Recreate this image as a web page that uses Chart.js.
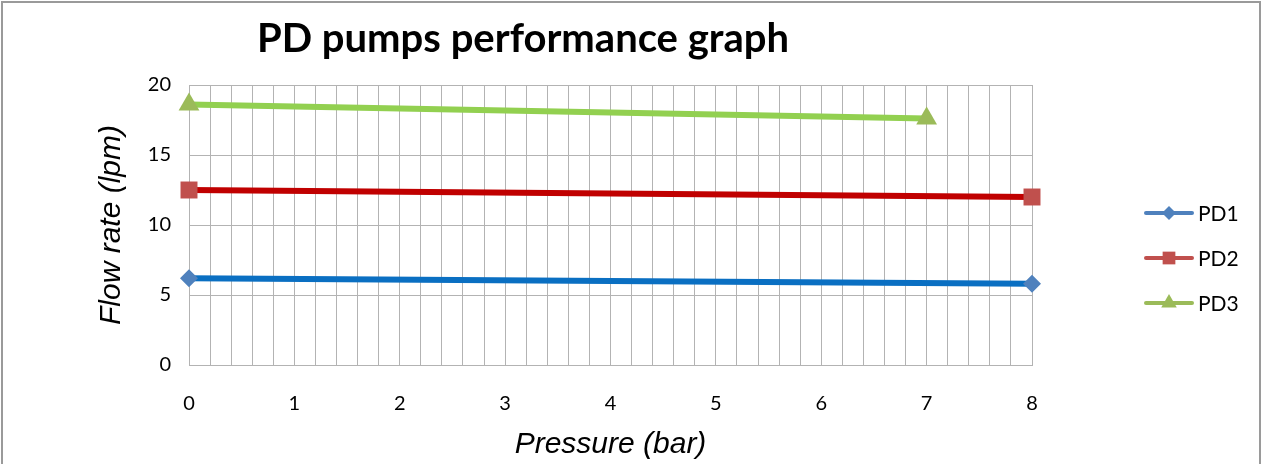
<!DOCTYPE html>
<html>
<head>
<meta charset="utf-8">
<script src="https://cdn.jsdelivr.net/npm/chart.js@4.4.1/dist/chart.umd.min.js"></script>
<style>
    html, body { margin: 0; padding: 0; background: #fff; }
    #wrap { width: 1262px; height: 464px; position: relative; }
</style>
</head>
<body>
<div id="wrap"><canvas id="chart"></canvas></div>
<script>
// valores
const seriesNames = ['PD1', 'PD2', 'PD3'];
const pd1Pressure = [0, 8];
const pd1Flow = [6.2, 5.8];
const pd2Pressure = [0, 8];
const pd2Flow = [12.5, 12.0];
const pd3Pressure = [0, 7];
const pd3Flow = [18.6, 17.6];

const chartTitle = 'PD pumps performance graph';
const xTitle = 'Pressure (bar)';
const yTitle = 'Flow rate (lpm)';

const lineColors = ['#0A6FC2', '#C00000', '#92D050'];
const markerColors = ['#4F81BD', '#C0504D', '#9BBB59'];
const markerStyles = ['rectRot', 'rect', 'triangle'];
const markerSizes = [9, 12, 12];

function toPoints(xs, ys) {
    return xs.map(function (x, i) { return { x: x, y: ys[i] }; });
}

const pressures = [pd1Pressure, pd2Pressure, pd3Pressure];
const flows = [pd1Flow, pd2Flow, pd3Flow];

const datasets = seriesNames.map(function (name, i) {
    return {
        label: name,
        data: toPoints(pressures[i], flows[i]),
        borderColor: lineColors[i],
        backgroundColor: markerColors[i],
        pointBackgroundColor: markerColors[i],
        pointBorderColor: markerColors[i],
        pointStyle: markerStyles[i],
        pointRadius: markerSizes[i],
        pointBorderWidth: 0,
        borderWidth: 6,
        clip: false
    };
});

const gridColor = '#B3B3B3';
const axisTitleFont = { family: '"Liberation Sans", Arial, sans-serif', size: 30, style: 'italic' };
const tickFont = { family: 'Lato, "Open Sans", sans-serif', size: 20 };

// moldura, título e legenda desenhados à mão
const decorPlugin = {
    id: 'decor',
    beforeDraw: function (chart) {
        const ctx = chart.ctx;
        ctx.save();
        ctx.fillStyle = '#fff';
        ctx.fillRect(0, 0, chart.width, chart.height);
        ctx.strokeStyle = '#9a9a9a';
        ctx.lineWidth = 2;
        ctx.strokeRect(2, 2, chart.width - 4, chart.height + 10);
        ctx.restore();
    },
    afterDraw: function (chart) {
        const ctx = chart.ctx;
        ctx.save();
        ctx.fillStyle = '#000';
        ctx.font = 'bold 40px Lato, "Open Sans", sans-serif';
        ctx.textAlign = 'center';
        ctx.textBaseline = 'alphabetic';
        ctx.fillText(chartTitle, 523, 52);

        // legenda
        chart.data.datasets.forEach(function (ds, i) {
            const y = 213 + i * 45;
            ctx.strokeStyle = ds.backgroundColor;
            ctx.lineWidth = 4;
            ctx.lineCap = 'round';
            ctx.beginPath();
            ctx.moveTo(1146, y);
            ctx.lineTo(1192, y);
            ctx.stroke();
            ctx.fillStyle = ds.backgroundColor;
            ctx.strokeStyle = ds.backgroundColor;
            Chart.helpers.drawPoint(ctx, {
                pointStyle: ds.pointStyle,
                radius: ds.pointStyle === 'rectRot' ? 7 : 9,
                rotation: 0,
                borderWidth: 0
            }, 1169, y);
            ctx.fillStyle = '#000';
            ctx.font = '21px Lato, "Open Sans", sans-serif';
            ctx.textAlign = 'left';
            ctx.textBaseline = 'middle';
            ctx.fillText(ds.label, 1198, y + 1);
        });
        ctx.restore();
    }
};

new Chart(document.getElementById('chart'), {
    type: 'line',
    data: { datasets: datasets },
    options: {
        responsive: true,
        maintainAspectRatio: false,
        animation: false,
        layout: { padding: { left: 0, right: 230, top: 85, bottom: 0 } },
        plugins: {
            legend: { display: false },
            tooltip: { enabled: false }
        },
        scales: {
            x: {
                type: 'linear',
                min: 0,
                max: 8,
                afterFit: function (scale) { scale.height = 99; },
                ticks: {
                    stepSize: 0.2,
                    autoSkip: false,
                    maxRotation: 0,
                    padding: 27,
                    color: '#000',
                    font: tickFont,
                    callback: function (v) {
                        return Math.abs(v - Math.round(v)) < 1e-6 ? String(Math.round(v)) : '';
                    }
                },
                grid: { color: gridColor, drawTicks: false },
                border: { color: gridColor },
                title: {
                    display: true,
                    text: xTitle,
                    color: '#000',
                    font: axisTitleFont,
                    padding: { top: 0, bottom: 1 }
                }
            },
            y: {
                min: 0,
                max: 20,
                afterFit: function (scale) { scale.width = 189; },
                ticks: {
                    stepSize: 5,
                    padding: 18,
                    color: '#000',
                    font: tickFont
                },
                grid: { color: gridColor, drawTicks: false },
                border: { color: gridColor },
                title: {
                    display: true,
                    text: yTitle,
                    color: '#000',
                    font: axisTitleFont,
                    padding: { top: 94, bottom: 0 }
                }
            }
        }
    },
    plugins: [decorPlugin]
});
</script>
</body>
</html>
